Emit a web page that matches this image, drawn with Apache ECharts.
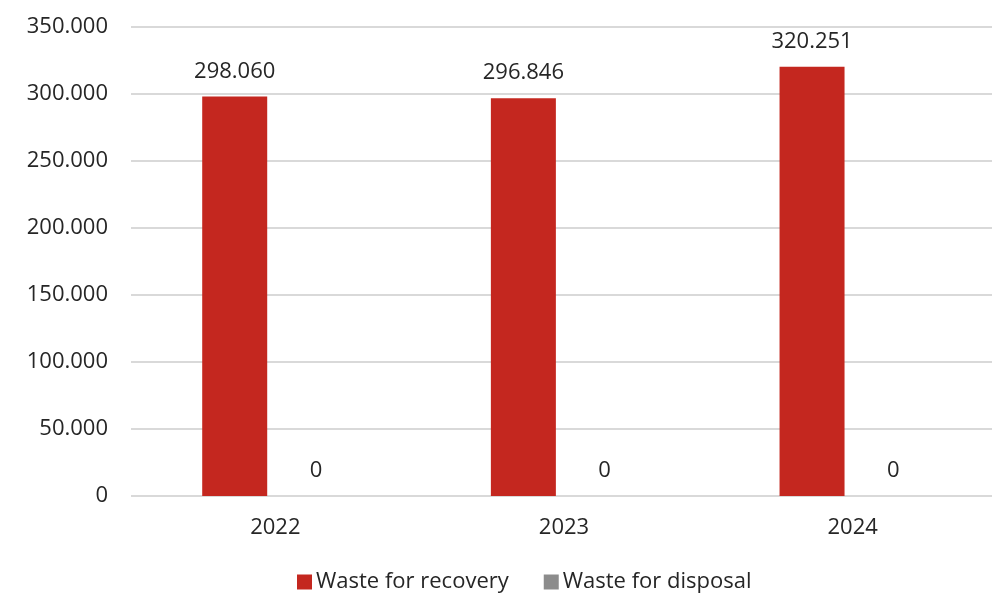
<!DOCTYPE html>
<html>
<head>
<meta charset="utf-8">
<script src="https://cdn.jsdelivr.net/npm/echarts@6/dist/echarts.min.js"></script>
<style>
  html, body { margin: 0; padding: 0; background: #ffffff; }
  #chart { width: 992px; height: 597px; }
</style>
</head>
<body>
<div id="chart"></div>
<script>
// Waste volumes per year
var years = ['2022', '2023', '2024'];
var wasteRecovery = [298060, 296846, 320251];
var wasteDisposal = [0, 0, 0];
var seriesNames = ['Waste for recovery', 'Waste for disposal'];

// Thousands separated by dots
function fmt(v) {
  return String(Math.round(v)).replace(/\B(?=(\d{3})+(?!\d))/g, '.');
}

var FONT = 'Open Sans';
var TEXT = '#262626';
var SIZE = 22;

var chart = echarts.init(document.getElementById('chart'), null, { renderer: 'canvas' });
chart.setOption({
  animation: false,
  backgroundColor: '#ffffff',
  textStyle: { fontFamily: FONT },
  grid: { left: 131, top: 27, width: 866, bottom: 101, outerBoundsMode: 'none' },
  legend: {
    data: seriesNames,
    top: 571,
    left: 297,
    padding: 0,
    itemWidth: 15,
    itemHeight: 15,
    itemGap: 35,
    icon: 'rect',
    textStyle: { fontFamily: FONT, fontSize: SIZE, color: TEXT, padding: [0, 0, 0, -1] }
  },
  xAxis: {
    type: 'category',
    data: years,
    axisLine: { show: false },
    axisTick: { show: false },
    axisLabel: { fontFamily: FONT, fontSize: SIZE, color: TEXT, margin: 21 }
  },
  yAxis: {
    type: 'value',
    min: 0,
    max: 350000,
    interval: 50000,
    axisLine: { show: false },
    axisTick: { show: false },
    splitLine: { lineStyle: { color: '#d9d9d9', width: 2 } },
    axisLabel: { fontFamily: FONT, fontSize: SIZE, color: TEXT, margin: 23, formatter: fmt }
  },
  series: [
    {
      name: seriesNames[0],
      type: 'bar',
      data: wasteRecovery,
      barWidth: 65,
      barGap: '25%',
      itemStyle: { color: '#c4271f' },
      label: { show: true, position: 'top', distance: 14, fontFamily: FONT, fontSize: SIZE, color: TEXT,
               formatter: function (p) { return fmt(p.value); } }
    },
    {
      name: seriesNames[1],
      type: 'bar',
      data: wasteDisposal,
      barWidth: 65,
      barGap: '25%',
      itemStyle: { color: '#8c8c8c' },
      label: { show: true, position: 'top', distance: 14, fontFamily: FONT, fontSize: SIZE, color: TEXT,
               formatter: function (p) { return fmt(p.value); } }
    }
  ]
});
</script>
</body>
</html>
